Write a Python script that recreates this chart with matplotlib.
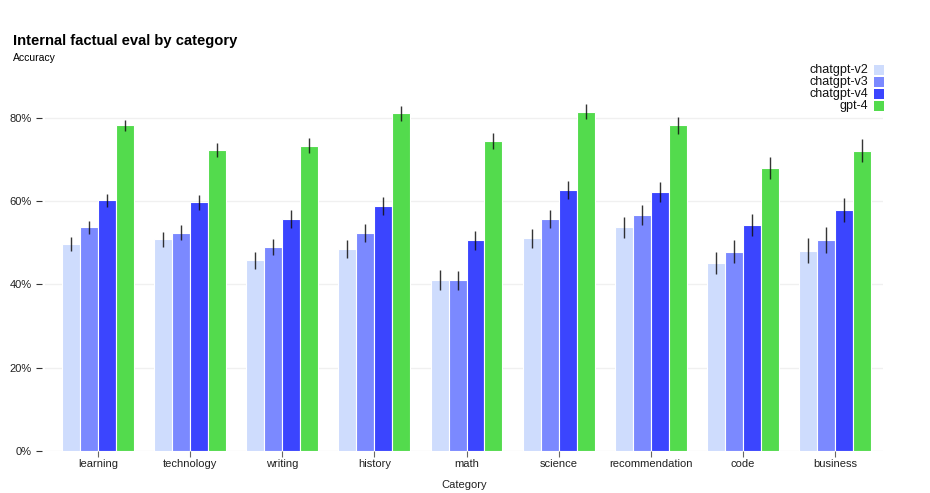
import matplotlib
matplotlib.use("Agg")
import matplotlib.pyplot as plt
from matplotlib.ticker import FuncFormatter
from matplotlib.patches import Rectangle
import numpy as np

plt.rcParams['font.family'] = ['Liberation Sans', 'DejaVu Sans']

categories = ["learning", "technology", "writing", "history", "math", "science",
              "recommendation", "code", "business"]
series = ["chatgpt-v2", "chatgpt-v3", "chatgpt-v4", "gpt-4"]
colors = ["#cedcfd", "#7b89ff", "#3b45fe", "#53db4d"]

v2 = [49.7, 50.8, 45.8, 48.5, 41.0, 51.1, 53.7, 45.2, 48.1]
v3 = [53.7, 52.4, 49.0, 52.3, 41.0, 55.7, 56.7, 47.9, 50.7]
v4 = [60.2, 59.7, 55.7, 58.9, 50.6, 62.7, 62.2, 54.3, 57.9]
g4 = [78.2, 72.3, 73.3, 81.1, 74.4, 81.4, 78.2, 68.0, 72.1]

e_v2 = [1.6, 1.9, 2.0, 2.2, 2.4, 2.3, 2.5, 2.7, 3.0]
e_v3 = [1.6, 1.8, 2.0, 2.2, 2.3, 2.2, 2.4, 2.7, 3.1]
e_v4 = [1.5, 1.8, 2.1, 2.2, 2.3, 2.1, 2.3, 2.6, 2.9]
e_g4 = [1.3, 1.7, 1.8, 1.8, 2.0, 1.8, 2.0, 2.6, 2.7]

values = [v2, v3, v4, g4]
errors = [e_v2, e_v3, e_v4, e_g4]

W, H = 930, 493
L, R = 45, 883
fig = plt.figure(figsize=(W/100, H/100), dpi=100)
ax = fig.add_axes([L/W, 42/H, (R-L)/W, (451-97)/H])

x = np.arange(len(categories))
bw = 0.195
for i, (vals, errs, c) in enumerate(zip(values, errors, colors)):
    pos = x + (i - 1.5) * bw
    ax.bar(pos, np.array(vals)/100, width=bw, color=c, edgecolor='white',
           linewidth=0.8, zorder=2)
    ax.errorbar(pos, np.array(vals)/100, yerr=np.array(errs)/100, fmt='none',
                ecolor='#111111', elinewidth=1.0, capsize=0, alpha=0.85, zorder=3)

step = (835 - 98) / 8
ax.set_xlim(-(98 - L) / step, 8 + (R - 835) / step)
ax.set_ylim(0, 0.85)
ax.set_yticks([0, 0.2, 0.4, 0.6, 0.8])
ax.yaxis.set_major_formatter(FuncFormatter(lambda v, p: f"{v*100:.0f}%"))
ax.set_xticks(x)
ax.set_xticklabels(categories)
ax.grid(axis='y', color='#f0f0f0', linewidth=1, zorder=0)
for s in ax.spines.values():
    s.set_visible(False)
ax.spines['left'].set_position(('outward', 2))
ax.tick_params(axis='y', length=4.5, width=0.8, color='#333333', pad=3,
               labelsize=8, labelcolor='#222222')
ax.tick_params(axis='x', length=4, width=0.8, color='#666666', pad=2,
               labelsize=8, labelcolor='#222222')
ax.set_xlabel("Category", fontsize=8, color='#222222', labelpad=8)

fig.text(13/W, 1 - 41/H, "Internal factual eval by category", fontsize=10.6,
         fontweight='bold', va='center', ha='left')
fig.text(13/W, 1 - 58/H, "Accuracy", fontsize=7.5, va='center', ha='left')

# legend (top right)
for i, (lab, c) in enumerate(zip(series, colors)):
    yc = 70 + 12 * i
    fig.text(868/W, 1 - yc/H, lab, fontsize=9, ha='right', va='center',
             color='#111111')
    fig.patches.append(Rectangle((874/W, 1 - (yc + 5)/H), 10/W, 10/H,
                                 transform=fig.transFigure, facecolor=c,
                                 edgecolor='none', figure=fig))

fig.savefig("out.png", dpi=100, facecolor='white')
